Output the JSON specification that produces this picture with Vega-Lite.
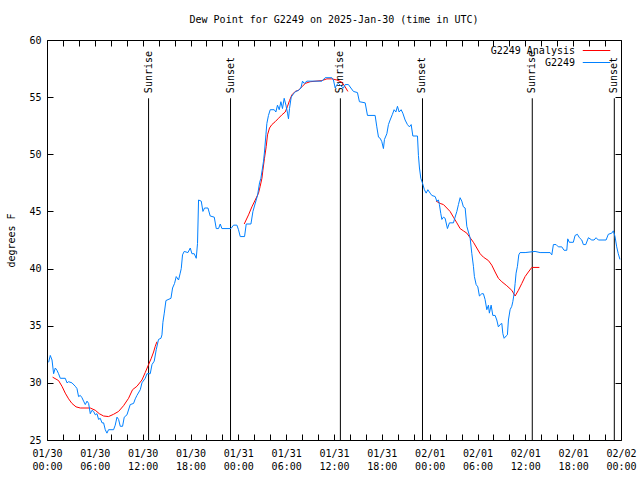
{
  "$schema": "https://vega.github.io/schema/vega-lite/v6.json",
  "width": 574,
  "height": 400,
  "autosize": "none",
  "padding": {"left": 47, "top": 40, "right": 19, "bottom": 40},
  "background": "white",
  "title": {
    "text": "Dew Point for G2249 on 2025-Jan-30 (time in UTC)",
    "font": "DejaVu Sans Mono",
    "fontSize": 10,
    "fontWeight": "normal",
    "color": "black",
    "anchor": "middle",
    "offset": 10
  },
  "config": {
    "view": {"stroke": "black", "strokeWidth": 1},
    "font": "DejaVu Sans Mono",
    "axis": {
      "labelFont": "DejaVu Sans Mono",
      "labelFontSize": 10,
      "labelColor": "black",
      "titleFont": "DejaVu Sans Mono",
      "titleFontSize": 10,
      "titleFontWeight": "normal",
      "titleColor": "black",
      "tickColor": "black",
      "grid": false,
      "domain": false,
      "labelFlush": false,
      "labelOverlap": false
    }
  },
  "datasets": {
    "obs": [
      {"t":0.2,"dp":31.8},{"t":0.41,"dp":32.4},{"t":0.63,"dp":32.0},{"t":0.83,"dp":30.8},{"t":1.04,"dp":31.3},{"t":1.25,"dp":31.1},{"t":1.45,"dp":30.8},{"t":1.67,"dp":30.4},{"t":2.29,"dp":30.4},{"t":2.51,"dp":30.0},{"t":2.71,"dp":30.1},{"t":3.13,"dp":30.0},{"t":3.55,"dp":29.7},{"t":3.76,"dp":29.5},{"t":3.96,"dp":28.8},{"t":4.18,"dp":28.9},{"t":4.39,"dp":28.7},{"t":4.59,"dp":28.4},{"t":4.8,"dp":28.1},{"t":5.02,"dp":28.4},{"t":5.22,"dp":28.2},{"t":5.43,"dp":27.3},{"t":5.64,"dp":27.6},{"t":5.84,"dp":27.5},{"t":6.06,"dp":27.2},{"t":6.27,"dp":27.3},{"t":6.47,"dp":26.8},{"t":6.68,"dp":26.9},{"t":6.9,"dp":26.5},{"t":7.1,"dp":26.5},{"t":7.31,"dp":25.9},{"t":7.52,"dp":25.6},{"t":7.72,"dp":25.9},{"t":8.35,"dp":25.9},{"t":8.56,"dp":26.3},{"t":8.78,"dp":27.0},{"t":8.98,"dp":26.8},{"t":9.19,"dp":26.2},{"t":9.48,"dp":26.2},{"t":9.69,"dp":27.0},{"t":10.03,"dp":27.2},{"t":10.44,"dp":28.1},{"t":10.86,"dp":28.2},{"t":11.07,"dp":28.6},{"t":11.28,"dp":28.9},{"t":11.7,"dp":29.4},{"t":11.91,"dp":30.0},{"t":12.32,"dp":30.4},{"t":12.54,"dp":30.8},{"t":12.95,"dp":30.8},{"t":13.17,"dp":31.6},{"t":13.45,"dp":31.9},{"t":13.7,"dp":32.9},{"t":13.99,"dp":33.8},{"t":14.29,"dp":33.9},{"t":14.42,"dp":34.2},{"t":14.54,"dp":35.3},{"t":14.71,"dp":36.1},{"t":14.92,"dp":37.2},{"t":15.55,"dp":37.4},{"t":15.75,"dp":38.3},{"t":16.0,"dp":38.7},{"t":16.21,"dp":39.3},{"t":16.5,"dp":39.0},{"t":16.71,"dp":39.6},{"t":16.84,"dp":40.0},{"t":17.0,"dp":41.2},{"t":17.21,"dp":41.5},{"t":17.68,"dp":41.4},{"t":17.97,"dp":41.8},{"t":18.18,"dp":41.3},{"t":18.47,"dp":41.3},{"t":18.72,"dp":40.9},{"t":18.88,"dp":42.2},{"t":19.01,"dp":46.0},{"t":19.35,"dp":45.9},{"t":19.56,"dp":45.0},{"t":19.76,"dp":45.3},{"t":20.19,"dp":45.3},{"t":20.47,"dp":44.6},{"t":20.98,"dp":44.5},{"t":21.23,"dp":43.5},{"t":21.52,"dp":43.5},{"t":21.73,"dp":43.9},{"t":21.94,"dp":43.5},{"t":23.07,"dp":43.5},{"t":23.4,"dp":43.8},{"t":23.82,"dp":43.8},{"t":24.02,"dp":43.4},{"t":24.24,"dp":42.8},{"t":24.78,"dp":42.8},{"t":24.99,"dp":43.9},{"t":25.58,"dp":43.9},{"t":25.83,"dp":45.0},{"t":26.24,"dp":46.0},{"t":26.41,"dp":46.4},{"t":26.66,"dp":47.5},{"t":26.83,"dp":47.9},{"t":27.03,"dp":48.8},{"t":27.16,"dp":49.4},{"t":27.28,"dp":50.2},{"t":27.46,"dp":51.7},{"t":27.58,"dp":52.7},{"t":27.78,"dp":53.4},{"t":28.0,"dp":53.9},{"t":28.5,"dp":53.9},{"t":28.71,"dp":53.7},{"t":28.91,"dp":54.3},{"t":29.13,"dp":53.9},{"t":29.34,"dp":54.6},{"t":29.54,"dp":54.0},{"t":29.75,"dp":54.9},{"t":29.97,"dp":54.3},{"t":30.17,"dp":53.6},{"t":30.29,"dp":53.1},{"t":30.42,"dp":54.0},{"t":30.63,"dp":55.0},{"t":30.92,"dp":55.3},{"t":31.22,"dp":55.5},{"t":31.55,"dp":55.6},{"t":31.85,"dp":55.8},{"t":32.05,"dp":56.4},{"t":32.26,"dp":56.2},{"t":32.6,"dp":56.4},{"t":34.48,"dp":56.4},{"t":34.89,"dp":56.7},{"t":35.73,"dp":56.7},{"t":35.93,"dp":56.5},{"t":36.15,"dp":55.8},{"t":36.36,"dp":56.1},{"t":36.56,"dp":56.2},{"t":36.99,"dp":55.9},{"t":37.19,"dp":55.8},{"t":37.4,"dp":56.1},{"t":37.81,"dp":56.1},{"t":38.12,"dp":55.8},{"t":38.44,"dp":55.5},{"t":38.94,"dp":55.4},{"t":39.19,"dp":54.6},{"t":39.91,"dp":54.5},{"t":40.2,"dp":53.4},{"t":41.16,"dp":53.4},{"t":41.37,"dp":52.4},{"t":41.58,"dp":51.5},{"t":41.79,"dp":51.4},{"t":42.0,"dp":51.1},{"t":42.2,"dp":50.5},{"t":42.33,"dp":51.3},{"t":42.63,"dp":51.8},{"t":42.83,"dp":52.6},{"t":43.04,"dp":53.0},{"t":43.33,"dp":53.5},{"t":43.54,"dp":53.9},{"t":43.76,"dp":53.7},{"t":43.96,"dp":54.2},{"t":44.17,"dp":53.7},{"t":44.42,"dp":53.9},{"t":44.63,"dp":53.6},{"t":44.92,"dp":53.0},{"t":45.21,"dp":52.6},{"t":45.46,"dp":52.4},{"t":45.68,"dp":52.6},{"t":45.89,"dp":51.6},{"t":46.47,"dp":51.6},{"t":46.59,"dp":49.9},{"t":46.72,"dp":48.8},{"t":46.89,"dp":47.9},{"t":47.09,"dp":47.5},{"t":47.34,"dp":46.9},{"t":47.56,"dp":46.6},{"t":47.77,"dp":46.9},{"t":48.06,"dp":46.6},{"t":48.27,"dp":46.4},{"t":48.69,"dp":46.3},{"t":48.9,"dp":45.9},{"t":49.1,"dp":46.0},{"t":49.22,"dp":45.6},{"t":49.4,"dp":44.8},{"t":49.53,"dp":44.3},{"t":49.73,"dp":44.5},{"t":49.94,"dp":44.4},{"t":50.23,"dp":43.5},{"t":50.48,"dp":44.0},{"t":50.98,"dp":44.0},{"t":51.19,"dp":44.5},{"t":51.41,"dp":45.0},{"t":51.61,"dp":45.6},{"t":51.82,"dp":46.2},{"t":52.03,"dp":45.9},{"t":52.23,"dp":45.4},{"t":52.45,"dp":45.3},{"t":52.66,"dp":43.7},{"t":52.86,"dp":43.2},{"t":53.07,"dp":42.7},{"t":53.29,"dp":41.3},{"t":53.49,"dp":40.2},{"t":53.61,"dp":39.3},{"t":53.83,"dp":38.6},{"t":54.04,"dp":38.4},{"t":54.24,"dp":37.6},{"t":54.54,"dp":37.8},{"t":54.74,"dp":37.8},{"t":54.95,"dp":37.3},{"t":55.17,"dp":36.4},{"t":55.37,"dp":36.8},{"t":55.49,"dp":36.1},{"t":55.71,"dp":36.8},{"t":55.92,"dp":35.9},{"t":56.21,"dp":35.9},{"t":56.42,"dp":35.5},{"t":56.62,"dp":34.9},{"t":56.84,"dp":35.1},{"t":57.05,"dp":35.2},{"t":57.18,"dp":34.3},{"t":57.34,"dp":33.9},{"t":57.59,"dp":34.1},{"t":57.75,"dp":34.2},{"t":57.88,"dp":35.5},{"t":58.09,"dp":36.4},{"t":58.3,"dp":36.7},{"t":58.43,"dp":37.1},{"t":58.59,"dp":37.8},{"t":58.72,"dp":38.7},{"t":58.84,"dp":39.6},{"t":59.01,"dp":40.2},{"t":59.18,"dp":41.2},{"t":59.34,"dp":41.4},{"t":59.97,"dp":41.4},{"t":61.22,"dp":41.5},{"t":61.85,"dp":41.4},{"t":63.11,"dp":41.4},{"t":63.32,"dp":41.2},{"t":63.52,"dp":42.1},{"t":63.86,"dp":42.1},{"t":64.14,"dp":41.9},{"t":64.57,"dp":41.9},{"t":64.86,"dp":41.6},{"t":65.2,"dp":41.6},{"t":65.32,"dp":42.6},{"t":65.52,"dp":42.3},{"t":66.02,"dp":42.3},{"t":66.24,"dp":42.9},{"t":66.53,"dp":43.0},{"t":66.78,"dp":42.7},{"t":67.08,"dp":42.5},{"t":67.28,"dp":42.1},{"t":67.58,"dp":42.1},{"t":67.91,"dp":42.7},{"t":68.33,"dp":42.5},{"t":68.62,"dp":42.5},{"t":68.87,"dp":42.7},{"t":69.16,"dp":42.5},{"t":70.13,"dp":42.5},{"t":70.41,"dp":43.0},{"t":70.84,"dp":43.1},{"t":71.04,"dp":43.3},{"t":71.25,"dp":42.8},{"t":71.46,"dp":41.9},{"t":71.66,"dp":41.3},{"t":71.87,"dp":40.8}
    ],
    "ana": [
      {"seg":"a","t":0.7,"dp":30.5},{"seg":"a","t":1.45,"dp":30.2},{"seg":"a","t":1.88,"dp":29.7},{"seg":"a","t":2.29,"dp":29.1},{"seg":"a","t":2.71,"dp":28.6},{"seg":"a","t":3.13,"dp":28.2},{"seg":"a","t":3.64,"dp":27.9},{"seg":"a","t":4.18,"dp":27.8},{"seg":"a","t":5.43,"dp":27.8},{"seg":"a","t":6.06,"dp":27.6},{"seg":"a","t":6.56,"dp":27.3},{"seg":"a","t":7.1,"dp":27.1},{"seg":"a","t":7.72,"dp":27.05},{"seg":"a","t":8.35,"dp":27.25},{"seg":"a","t":8.98,"dp":27.5},{"seg":"a","t":9.6,"dp":28.0},{"seg":"a","t":10.23,"dp":28.65},{"seg":"a","t":10.73,"dp":29.4},{"seg":"a","t":11.28,"dp":29.7},{"seg":"a","t":11.91,"dp":30.25},{"seg":"a","t":12.32,"dp":30.9},{"seg":"a","t":12.74,"dp":31.6},{"seg":"a","t":13.08,"dp":32.15},{"seg":"a","t":13.37,"dp":32.7},{"seg":"a","t":13.58,"dp":33.2},{"seg":"a","t":13.79,"dp":33.6},
      {"seg":"b","t":24.74,"dp":43.9},{"seg":"b","t":25.28,"dp":44.7},{"seg":"b","t":25.7,"dp":45.4},{"seg":"b","t":26.12,"dp":46.0},{"seg":"b","t":26.53,"dp":46.6},{"seg":"b","t":26.74,"dp":47.2},{"seg":"b","t":26.96,"dp":47.9},{"seg":"b","t":27.08,"dp":48.6},{"seg":"b","t":27.28,"dp":49.65},{"seg":"b","t":27.5,"dp":50.7},{"seg":"b","t":27.66,"dp":51.7},{"seg":"b","t":27.91,"dp":52.3},{"seg":"b","t":28.21,"dp":52.6},{"seg":"b","t":28.62,"dp":52.85},{"seg":"b","t":29.04,"dp":53.15},{"seg":"b","t":29.46,"dp":53.45},{"seg":"b","t":29.88,"dp":53.7},{"seg":"b","t":30.17,"dp":54.2},{"seg":"b","t":30.42,"dp":54.7},{"seg":"b","t":30.72,"dp":55.2},{"seg":"b","t":31.13,"dp":55.5},{"seg":"b","t":31.55,"dp":55.6},{"seg":"b","t":31.97,"dp":55.9},{"seg":"b","t":32.39,"dp":56.2},{"seg":"b","t":33.01,"dp":56.35},{"seg":"b","t":34.48,"dp":56.45},{"seg":"b","t":35.11,"dp":56.6},{"seg":"b","t":35.73,"dp":56.6},{"seg":"b","t":36.36,"dp":56.5},{"seg":"b","t":36.99,"dp":56.3},{"seg":"b","t":37.4,"dp":55.9},{"seg":"b","t":37.74,"dp":55.5},
      {"seg":"c","t":48.81,"dp":45.9},{"seg":"c","t":49.31,"dp":45.7},{"seg":"c","t":49.73,"dp":45.6},{"seg":"c","t":50.15,"dp":45.3},{"seg":"c","t":50.56,"dp":45.0},{"seg":"c","t":50.98,"dp":44.5},{"seg":"c","t":51.41,"dp":44.0},{"seg":"c","t":51.82,"dp":43.5},{"seg":"c","t":52.23,"dp":43.3},{"seg":"c","t":52.66,"dp":43.1},{"seg":"c","t":53.07,"dp":42.7},{"seg":"c","t":53.49,"dp":42.3},{"seg":"c","t":53.91,"dp":41.8},{"seg":"c","t":54.33,"dp":41.3},{"seg":"c","t":54.74,"dp":41.0},{"seg":"c","t":55.37,"dp":40.7},{"seg":"c","t":55.79,"dp":40.3},{"seg":"c","t":56.21,"dp":39.7},{"seg":"c","t":56.62,"dp":39.15},{"seg":"c","t":57.05,"dp":38.85},{"seg":"c","t":57.67,"dp":38.5},{"seg":"c","t":58.3,"dp":38.1},{"seg":"c","t":58.72,"dp":37.6},{"seg":"c","t":59.13,"dp":38.1},{"seg":"c","t":59.56,"dp":38.7},{"seg":"c","t":59.97,"dp":39.3},{"seg":"c","t":60.38,"dp":39.7},{"seg":"c","t":60.81,"dp":40.1},{"seg":"c","t":61.76,"dp":40.1}
    ],
    "sun": [
      {"t":12.74,"ev":"Sunrise"},{"t":23.02,"ev":"Sunset"},{"t":36.8,"ev":"Sunrise"},{"t":47.1,"ev":"Sunset"},{"t":60.87,"ev":"Sunrise"},{"t":71.16,"ev":"Sunset"}
    ]
  },
  "layer": [
    {
      "data": {"name": "sun"},
      "mark": {"type": "rule", "color": "black", "strokeWidth": 1},
      "encoding": {
        "x": {"field": "t", "type": "quantitative", "axis": null, "scale": {"domain": [0, 72], "nice": false, "zero": false}},
        "y": {"datum": 25, "type": "quantitative", "axis": null},
        "y2": {"datum": 54.9}
      }
    },
    {
      "data": {"name": "sun"},
      "mark": {"type": "text", "angle": 270, "align": "left", "baseline": "middle", "font": "DejaVu Sans Mono", "fontSize": 10, "color": "black"},
      "encoding": {
        "x": {"field": "t", "type": "quantitative", "axis": null},
        "y": {"datum": 55.35, "type": "quantitative", "axis": null},
        "text": {"field": "ev"}
      }
    },
    {
      "data": {"name": "ana"},
      "mark": {"type": "line", "strokeWidth": 1},
      "encoding": {
        "x": {"field": "t", "type": "quantitative", "scale": {"domain": [0, 72], "nice": false, "zero": false},
          "axis": {"orient": "top", "values": [0,2,4,6,8,10,12,14,16,18,20,22,24,26,28,30,32,34,36,38,40,42,44,46,48,50,52,54,56,58,60,62,64,66,68,70,72], "labels": false, "title": null, "tickSize": -6}},
        "y": {"field": "dp", "type": "quantitative", "scale": {"domain": [25, 60], "nice": false, "zero": false},
          "axis": {"orient": "right", "values": [25,30,35,40,45,50,55,60], "labels": false, "title": null, "tickSize": -6}},
        "detail": {"field": "seg"},
        "color": {"datum": "G2249 Analysis", "type": "nominal",
          "scale": {"domain": ["G2249 Analysis", "G2249"], "range": ["#ff0000", "#0080ff"]},
          "legend": {"title": null, "orient": "none", "legendX": 543.5, "legendY": 4.5, "symbolType": "M-2.5,0H2.5", "symbolSize": 121, "symbolStrokeWidth": 1, "symbolFillColor": "transparent", "labelAlign": "right", "labelOffset": -27.5, "labelFont": "DejaVu Sans Mono", "labelFontSize": 10, "labelColor": "black", "rowPadding": 1, "padding": 0}}
      }
    },
    {
      "data": {"name": "obs"},
      "mark": {"type": "line", "strokeWidth": 1},
      "encoding": {
        "x": {"field": "t", "type": "quantitative", "scale": {"domain": [0, 72], "nice": false, "zero": false},
          "axis": {"orient": "bottom", "values": [0,2,4,6,8,10,12,14,16,18,20,22,24,26,28,30,32,34,36,38,40,42,44,46,48,50,52,54,56,58,60,62,64,66,68,70,72], "title": null, "tickSize": -6, "labelPadding": 14, "labelLineHeight": 13, "labelBaseline": "top",
            "labelExpr": "datum.value % 6 == 0 ? [['01/30','01/31','02/01','02/02'][floor(datum.value/24)], (datum.value % 24 < 10 ? '0' : '') + (datum.value % 24) + ':00'] : ''"}},
        "y": {"field": "dp", "type": "quantitative", "scale": {"domain": [25, 60], "nice": false, "zero": false},
          "axis": {"orient": "left", "values": [25,30,35,40,45,50,55,60], "title": "degrees F", "tickSize": -6, "labelPadding": 12, "titleX": -36, "titleBaseline": "middle"}},
        "color": {"datum": "G2249", "type": "nominal"}
      }
    }
  ],
  "resolve": {"axis": {"x": "independent", "y": "independent"}}
}
